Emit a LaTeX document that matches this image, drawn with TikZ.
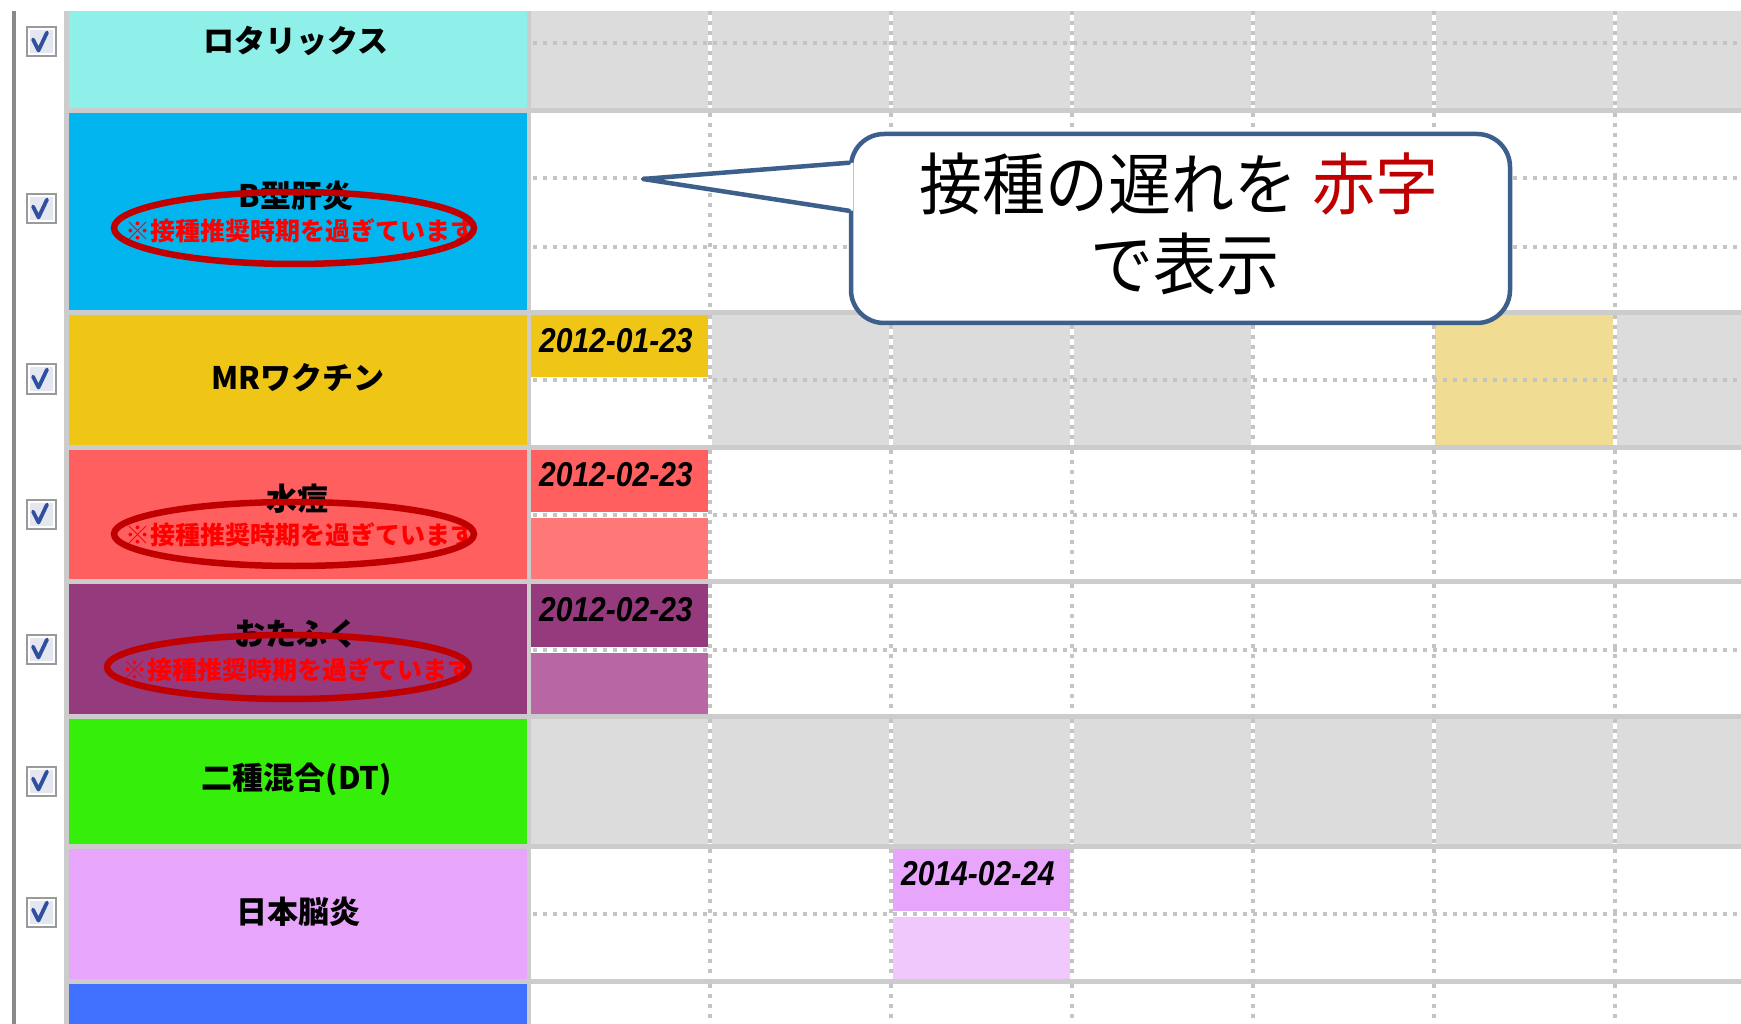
\documentclass[tikz,border=0pt]{standalone}
\usepackage{fontspec}
\usetikzlibrary{calc}
\newfontfamily\cjk{Noto Sans CJK JP}
\newfontfamily\datefont{Liberation Sans}
\definecolor{tablebg}{HTML}{CCCCCC}
\definecolor{gridgray}{HTML}{DCDCDC}
\definecolor{gridline}{HTML}{C4C4C4}
\definecolor{leftline}{HTML}{8A8A8A}
\definecolor{rotarix}{HTML}{8EF0E8}
\definecolor{hepb}{HTML}{03B5EE}
\definecolor{mrcol}{HTML}{EFC516}
\definecolor{vari}{HTML}{FF5F5F}
\definecolor{varilight}{HTML}{FF7878}
\definecolor{mumps}{HTML}{963A7E}
\definecolor{mumpslight}{HTML}{B866A4}
\definecolor{dtcol}{HTML}{35EF0A}
\definecolor{jecol}{HTML}{E8A5FC}
\definecolor{jelight}{HTML}{F0C8FC}
\definecolor{lastblue}{HTML}{4070FF}
\definecolor{lightyellow}{HTML}{F0DC92}
\definecolor{markred}{HTML}{C00000}
\definecolor{warnred}{HTML}{FF0000}
\definecolor{callblue}{HTML}{3C5F8C}
\definecolor{calred}{HTML}{C00000}
\definecolor{cbborder}{HTML}{9A9A9A}
\definecolor{cbfill}{HTML}{E4E7EF}
\definecolor{cbcheck}{HTML}{2F4F9F}
\begin{document}
\begin{tikzpicture}[x=1pt,y=-1pt,
  labeltext/.style={font=\cjk\bfseries\fontsize{31}{36}\selectfont, text=black, inner sep=0pt},
  warntext/.style={font=\cjk\bfseries\fontsize{25}{28}\selectfont, text=warnred, inner sep=0pt},
  datetext/.style={font=\datefont\bfseries\itshape\fontsize{30}{32}\selectfont, anchor=west, inner sep=0pt, text=black},
  vunder/.style={draw=white, line width=4pt},
  gdots/.style={draw=gridline, line width=3.5pt, dash pattern=on 4pt off 6pt},
  ovalmark/.style={draw=markred, line width=6.5pt},
  callbox/.style={draw=callblue, line width=4.5pt, fill=white, rounded corners=33pt, inner sep=0pt, minimum width=659pt, minimum height=189pt},
  callline/.style={draw=callblue, line width=4.5pt, line cap=round, line join=round},
  calltextstyle/.style={font=\cjk\fontsize{63}{80}\selectfont, inner sep=0pt, text=black},
  chk/.pic={
    \fill[cbborder] (-15.5,-15.5) rectangle (15.5,15.5);
    \fill[white] (-13.5,-13.5) rectangle (13.5,13.5);
    \fill[cbfill] (-11.5,-11.5) rectangle (11.5,11.5);
    \draw[cbcheck, line width=3.8pt, line cap=round, line join=round] (-8,-2.5) -- (-2.5,8.5) -- (6,-9.5);
  }]
\useasboundingbox (0,0) rectangle (1741,1024);
\fill[white] (0,0) rectangle (1741,1024);
\begin{scope}
\clip (0,0) rectangle (1741,1024);
% left line
\fill[leftline] (12,11) rectangle (15.5,1024);
% table background
\fill[tablebg] (64,11) rectangle (1741,1030);
% label cells
\fill[rotarix] (69,11) rectangle (527,108);
\fill[hepb] (69,113) rectangle (527,310);
\fill[mrcol] (69,315) rectangle (527,445);
\fill[vari] (69,450) rectangle (527,579);
\fill[mumps] (69,584) rectangle (527,714);
\fill[dtcol] (69,719) rectangle (527,844);
\fill[jecol] (69,849) rectangle (527,979);
\fill[lastblue] (69,984) rectangle (527,1030);
% grid row backgrounds
\fill[gridgray] (531,11) rectangle (1741,108);
\fill[white] (531,113) rectangle (1741,310);
\fill[white] (531,315) rectangle (1741,445);
\fill[gridgray] (710,315) rectangle (1253,445);
\fill[gridgray] (1615,315) rectangle (1741,445);
\fill[white] (531,450) rectangle (1741,579);
\fill[white] (531,584) rectangle (1741,714);
\fill[gridgray] (531,719) rectangle (1741,844);
\fill[white] (531,849) rectangle (1741,979);
\fill[white] (531,984) rectangle (1741,1030);
% white under vertical lines
\foreach \t/\b in {11/108,113/310,315/445,450/579,584/714,719/844,849/979,984/1030}{
  \foreach \x in {710,891,1072,1253,1434,1615}{
    \draw[vunder] (\x,\t) -- (\x,\b);
  }
}
% date cells
\fill[mrcol] (531,315) rectangle (708,377);
\fill[lightyellow] (1435,315) rectangle (1613,445);
\fill[vari] (531,450) rectangle (708,512);
\fill[varilight] (531,518) rectangle (708,579);
\fill[mumps] (531,584) rectangle (708,647);
\fill[mumpslight] (531,653) rectangle (708,714);
\fill[jecol] (893,849) rectangle (1070,911);
\fill[jelight] (893,917) rectangle (1070,979);
% dotted vertical lines
\foreach \t/\b in {11/108,113/310,315/445,450/579,584/714,719/844,849/979,984/1030}{
  \foreach \x in {710,891,1072,1253,1434,1615}{
    \draw[gdots] (\x,\t) -- (\x,\b);
  }
}
% dotted horizontal lines
\foreach \y in {43,178,247,380,515,650,914}{
  \draw[gdots] (533,\y) -- (1741,\y);
}
% checkboxes
\foreach \cy in {42,209,379,514,649,781,912}{
  \pic at (41,\cy) {chk};
}
% label texts
\node[labeltext] (l1) at (296,41) {ロタリックス};
\node[labeltext] (l2) at (296,196) {B型肝炎};
\node[warntext] (w2) at (300,231) {※接種推奨時期を過ぎています};
\node[labeltext] (l3) at (298,378) {MRワクチン};
\node[labeltext] (l4) at (297,499) {水痘};
\node[warntext] (w4) at (300,535) {※接種推奨時期を過ぎています};
\node[labeltext] (l5) at (296,634) {おたふく};
\node[warntext] (w5) at (297,670) {※接種推奨時期を過ぎています};
\node[labeltext] (l6) at (297,779) {二種混合(DT)};
\node[labeltext] (l7) at (298,912) {日本脳炎};
% dates
\node[datetext] (d3) at (539,341) {\scalebox{1}[1.15]{2012-01-23}};
\node[datetext] (d4) at (539,475) {\scalebox{1}[1.15]{2012-02-23}};
\node[datetext] (d5) at (539,610) {\scalebox{1}[1.15]{2012-02-23}};
\node[datetext] (d7) at (901,874) {\scalebox{1}[1.15]{2014-02-24}};
% red ovals
\draw[ovalmark] (294,228) ellipse [x radius=180, y radius=36];
\draw[ovalmark] (294,534) ellipse [x radius=180, y radius=32];
\draw[ovalmark] (288,667) ellipse [x radius=181, y radius=32];
% callout
\node[callbox] (call) at (1180.5,228.5) {};
\coordinate (tip) at (643,179);
\fill[white] ($(call.north west)+(4,31)$) -- (tip) -- ($(call.north west)+(4,79)$) -- cycle;
\draw[callline] ($(call.north west)+(0,31)$) -- (tip) -- ($(call.north west)+(0,79)$);
\node[calltextstyle] (calltext1) at (1179,184) {\scalebox{1}[1.07]{接種の遅れを {\color{calred}赤字}}};
\node[calltextstyle] (calltext2) at (1185,264) {\scalebox{1}[1.07]{で表示}};
\end{scope}
\end{tikzpicture}
\end{document}
